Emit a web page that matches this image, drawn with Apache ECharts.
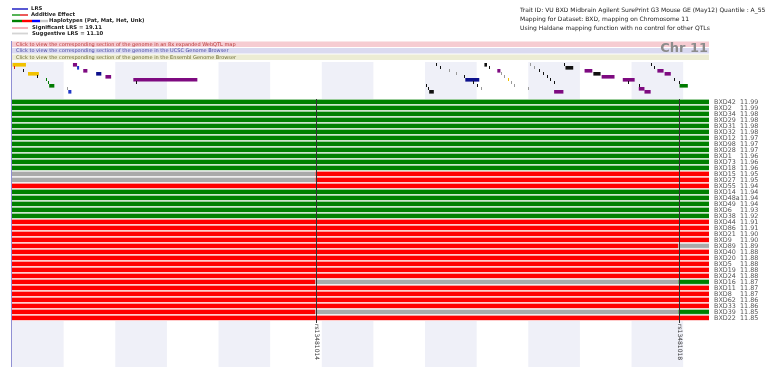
<!DOCTYPE html>
<html>
<head>
<meta charset="utf-8">
<script src="https://cdn.jsdelivr.net/npm/echarts@6/dist/echarts.min.js"></script>
<style>
  html, body { margin: 0; padding: 0; background: #ffffff; }
  #chart { width: 766px; height: 367px; }
</style>
</head>
<body>
<div id="chart"></div>
<script>
// Strains, their peak LRS on the chromosome, and the genotype of each block
// (left of the first marker, between markers, right of the last marker).
// B = Pat, D = Mat, H = Het, U = Unk
const strains = ['BXD42','BXD2','BXD34','BXD29','BXD31','BXD32','BXD12','BXD98','BXD28','BXD1',
  'BXD73','BXD18','BXD15','BXD27','BXD55','BXD14','BXD48a','BXD49','BXD6','BXD38',
  'BXD44','BXD86','BXD21','BXD9','BXD89','BXD40','BXD20','BXD5','BXD19','BXD24',
  'BXD16','BXD11','BXD8','BXD62','BXD33','BXD39','BXD22'];
const lrsValues = [11.99,11.99,11.98,11.98,11.98,11.98,11.97,11.97,11.97,11.96,
  11.96,11.96,11.95,11.95,11.94,11.94,11.94,11.94,11.93,11.92,
  11.91,11.91,11.90,11.90,11.89,11.88,11.88,11.88,11.88,11.88,
  11.87,11.87,11.87,11.86,11.86,11.85,11.85];
const genotypes = ['BBB','BBB','BBB','BBB','BBB','BBB','BBB','BBB','BBB','BBB',
  'BBB','BBB','UDD','UDD','DDD','BBB','BBB','BBB','BBB','BBB',
  'DDD','DDD','DDD','DDD','DDU','DDD','DDD','DDD','DDD','DDD',
  'DUB','DDD','DDD','DDD','DDD','DUB','DDD'];

// Markers (Mb) and chromosome extent (Mb)
const markerNames = ['rs13481014', 'rs13481018'];
const markerMb = [58.8, 129.1];
const chrEndMb = 135;
const shadedBandStarts = [0, 20, 40, 60, 80, 100, 120];
const bandWidthMb = 10;

// Feature track above the haplotypes: [start Mb, end Mb, track row, kind]
const trackFeatures = [
  [0.1, 2.7, 0, 'Y'], [0.4, 0.4, 1, 'R'], [2.1, 2.1, 2, 'K'], [3.1, 5.2, 3, 'Y'],
  [4.8, 4.8, 4, 'K'], [6.6, 6.6, 5, 'G'], [6.9, 6.9, 6, 'G'], [7.2, 8.2, 7, 'G'],
  [10.6, 10.6, 8, 'L'], [10.9, 11.5, 9, 'B'], [11.8, 12.6, 0, 'P'], [12.6, 13.0, 1, 'B'],
  [13.8, 14.6, 2, 'P'], [16.3, 17.3, 3, 'N'], [18.1, 19.2, 4, 'P'], [23.5, 35.9, 5, 'P'],
  [24.1, 24.1, 6, 'K'],
  [80.2, 80.2, 7, 'K'], [80.6, 80.6, 8, 'K'], [80.8, 81.7, 9, 'K'], [82.1, 82.1, 0, 'K'],
  [82.9, 82.9, 1, 'K'], [84.7, 84.7, 2, 'L'], [86.0, 86.0, 3, 'L'], [87.6, 87.6, 4, 'K'],
  [87.8, 90.5, 5, 'N'], [89.3, 89.3, 6, 'K'], [90.1, 90.1, 7, 'K'], [90.9, 90.9, 8, 'L'],
  [91.5, 92.0, 0, 'K'], [92.4, 92.4, 1, 'K'], [94.0, 94.6, 2, 'P'], [94.8, 94.8, 3, 'L'],
  [95.3, 95.3, 4, 'L'], [96.1, 96.1, 5, 'Y'], [96.7, 96.7, 6, 'L'], [97.3, 97.3, 7, 'L'],
  [100.0, 100.0, 8, 'L'], [100.4, 100.4, 0, 'L'], [101.2, 101.2, 1, 'L'], [102.1, 102.1, 2, 'K'],
  [102.9, 102.9, 3, 'K'], [103.7, 103.7, 4, 'K'], [104.3, 104.3, 5, 'K'], [104.9, 104.9, 6, 'K'],
  [105.0, 106.8, 9, 'P'], [107.0, 107.0, 0, 'K'], [107.2, 108.7, 1, 'K'], [110.9, 112.4, 2, 'P'],
  [112.6, 114.0, 3, 'K'], [114.2, 116.7, 4, 'P'], [118.3, 120.6, 5, 'P'], [119.4, 119.4, 6, 'K'],
  [121.4, 121.4, 7, 'K'], [121.4, 122.5, 8, 'P'], [122.5, 123.7, 9, 'P'], [123.7, 123.7, 0, 'K'],
  [124.3, 124.3, 1, 'K'], [125.0, 126.2, 2, 'P'], [126.4, 127.6, 3, 'P'], [128.3, 128.3, 5, 'K'],
  [129.1, 129.1, 6, 'K'], [129.3, 130.9, 7, 'G']
];

// Text
const headerLines = [
  'Trait ID: VU BXD Midbrain Agilent SurePrint G3 Mouse GE (May12) Quantile : A_55',
  'Mapping for Dataset: BXD, mapping on Chromosome 11',
  'Using Haldane mapping function with no control for other QTLs'
];
const linkLines = [
  'Click to view the corresponding section of the genome in an 8x expanded WebQTL map',
  'Click to view the corresponding section of the genome in the UCSC Genome Browser',
  'Click to view the corresponding section of the genome in the Ensembl Genome Browser'
];
const chrTitle = 'Chr 11';

// ---- styling ----
const FONT = '"DejaVu Sans", Verdana, sans-serif';
const genoKeys = ['B', 'D', 'H', 'U'];
const genoColors = { B: '#008000', D: '#ff0000', H: '#0000ff', U: '#aaaaaa' };
const kindKeys = ['Y', 'R', 'K', 'G', 'L', 'B', 'P', 'N'];
const kindColors = { Y: '#f2c200', R: '#d02020', K: '#111111', G: '#007a00', L: '#9a9a9a',
  B: '#2038c8', P: '#7e0a80', N: '#0c108c' };
const bandFill = '#eff0f8';

function tint(hex, t) {
  const n = parseInt(hex.slice(1), 16);
  const r = (n >> 16) & 255, g = (n >> 8) & 255, b = n & 255;
  const m = c => Math.round(c + (255 - c) * t);
  return 'rgb(' + m(r) + ',' + m(g) + ',' + m(b) + ')';
}

// Haplotype blocks, merging neighbouring blocks with the same genotype
const breaks = [0, markerMb[0], markerMb[1], chrEndMb];
const segData = [];
strains.forEach((s, i) => {
  let k = 0;
  while (k < 3) {
    let j = k;
    while (j + 1 < 3 && genotypes[i][j + 1] === genotypes[i][k]) j++;
    segData.push([breaks[k], breaks[j + 1], i, genoKeys.indexOf(genotypes[i][k])]);
    k = j + 1;
  }
});
const trackData = trackFeatures.map(f => [f[0], f[1], f[2], kindKeys.indexOf(f[3])]);
const bandData = shadedBandStarts.map(s => [s, s + bandWidthMb]);

function renderBands(params, api) {
  const cs = params.coordSys;
  const a = api.coord([api.value(0), 0]);
  const b = api.coord([api.value(1), 0]);
  return { type: 'rect', shape: { x: a[0], y: cs.y, width: b[0] - a[0], height: cs.height },
    style: { fill: bandFill } };
}

const LEFT = 12, WIDTH = 697;

const option = {
  animation: false,
  backgroundColor: '#ffffff',
  grid: [
    { left: LEFT, width: WIDTH, top: 62, height: 37 },
    { left: LEFT, width: WIDTH, top: 99, height: 222 },
    { left: LEFT, width: WIDTH, top: 321, height: 46 }
  ],
  xAxis: [0, 1, 2].map(g => ({ type: 'value', gridIndex: g, min: 0, max: chrEndMb, show: false })),
  yAxis: [
    { type: 'value', gridIndex: 0, min: 0, max: 12.33, inverse: true, show: false },
    {
      type: 'category', gridIndex: 1, data: strains, inverse: true, position: 'right',
      axisLine: { show: false }, axisTick: { show: false }, splitLine: { show: false },
      axisLabel: {
        interval: 0, margin: 5, align: 'left',
        formatter: (v, i) => '{n|' + v + '}{v|' + lrsValues[i].toFixed(2) + '}',
        rich: {
          n: { width: 26, fontFamily: FONT, fontSize: 6.4, color: '#555555' },
          v: { fontFamily: FONT, fontSize: 6.4, color: '#555555' }
        }
      }
    },
    { type: 'value', gridIndex: 2, min: 0, max: 1, show: false }
  ],
  series: [
    { type: 'custom', xAxisIndex: 0, yAxisIndex: 0, data: bandData, renderItem: renderBands, silent: true, z: 1 },
    { type: 'custom', xAxisIndex: 1, yAxisIndex: 1, data: bandData, renderItem: renderBands, silent: true, z: 1 },
    { type: 'custom', xAxisIndex: 2, yAxisIndex: 2, data: bandData, renderItem: renderBands, silent: true, z: 1 },
    {
      // feature track
      type: 'custom', xAxisIndex: 0, yAxisIndex: 0, data: trackData, z: 3,
      encode: { x: [0, 1], y: 2 },
      renderItem(params, api) {
        const a = api.coord([api.value(0), api.value(2)]);
        const b = api.coord([api.value(1), api.value(2)]);
        const col = kindColors[kindKeys[api.value(3)]];
        const w = b[0] - a[0];
        if (w < 0.5) {
          return { type: 'rect', shape: { x: Math.round(a[0]), y: a[1] + 1, width: 1, height: 3 },
            style: { fill: col } };
        }
        return { type: 'rect', shape: { x: a[0], y: a[1] + 1, width: w, height: 3.6 }, style: { fill: col } };
      }
    },
    {
      // haplotype blocks per strain
      type: 'custom', xAxisIndex: 1, yAxisIndex: 1, data: segData, z: 3,
      encode: { x: [0, 1], y: 2 },
      renderItem(params, api) {
        const a = api.coord([api.value(0), api.value(2)]);
        const b = api.coord([api.value(1), api.value(2)]);
        const rowH = api.size([0, 1])[1];
        const top = a[1] - rowH / 2;
        const col = genoColors[genoKeys[api.value(3)]];
        return { type: 'group', children: [
          { type: 'rect', shape: { x: a[0], y: top, width: b[0] - a[0], height: rowH },
            style: { fill: tint(col, 0.8) } },
          { type: 'rect', shape: { x: a[0], y: top + 0.8, width: b[0] - a[0], height: rowH - 1.9 },
            style: { fill: col } }
        ] };
      }
    },
    {
      // marker lines and names
      type: 'custom', xAxisIndex: 1, yAxisIndex: 1, z: 5,
      data: markerMb.map((m, i) => [m, i]),
      encode: { x: 0 },
      renderItem(params, api) {
        const cs = params.coordSys;
        const p = api.coord([api.value(0), 0]);
        const x = Math.round(p[0]) + 0.5;
        const yb = cs.y + cs.height;
        return { type: 'group', children: [
          { type: 'line', shape: { x1: x, y1: cs.y, x2: x, y2: yb + 2 },
            style: { stroke: '#333333', lineWidth: 1 } },
          { type: 'text', x: x, y: yb + 3, rotation: -Math.PI / 2,
            style: { text: markerNames[params.dataIndex], font: '6px ' + FONT, fill: '#333333',
              align: 'left', verticalAlign: 'middle' } }
        ] };
      }
    }
  ],
  graphic: [
    // left frame line
    { type: 'line', shape: { x1: 11.5, y1: 41, x2: 11.5, y2: 367 }, style: { stroke: '#9090d4', lineWidth: 1 }, z: 10 },
    // legend
    { type: 'line', shape: { x1: 12, y1: 9, x2: 28, y2: 9 }, style: { stroke: '#3030c8', lineWidth: 1.6 } },
    { type: 'text', x: 31, y: 9, style: { text: 'LRS', font: 'bold 5.3px ' + FONT, fill: '#222', verticalAlign: 'middle' } },
    { type: 'line', shape: { x1: 12, y1: 15, x2: 20, y2: 15 }, style: { stroke: '#2ea02e', lineWidth: 1.6 } },
    { type: 'line', shape: { x1: 20, y1: 15, x2: 28, y2: 15 }, style: { stroke: '#e83030', lineWidth: 1.6 } },
    { type: 'text', x: 31, y: 15, style: { text: 'Additive Effect', font: 'bold 5.3px ' + FONT, fill: '#222', verticalAlign: 'middle' } },
    { type: 'line', shape: { x1: 12, y1: 21, x2: 22, y2: 21 }, style: { stroke: '#008000', lineWidth: 2.4 } },
    { type: 'line', shape: { x1: 22, y1: 21, x2: 32, y2: 21 }, style: { stroke: '#ff0000', lineWidth: 2.4 } },
    { type: 'line', shape: { x1: 32, y1: 21, x2: 40, y2: 21 }, style: { stroke: '#0000ff', lineWidth: 2.4 } },
    { type: 'line', shape: { x1: 40, y1: 21, x2: 48, y2: 21 }, style: { stroke: '#c8c8c8', lineWidth: 2.4 } },
    { type: 'text', x: 49, y: 21, style: { text: 'Haplotypes (Pat, Mat, Het, Unk)', font: 'bold 5.3px ' + FONT, fill: '#222', verticalAlign: 'middle' } },
    { type: 'line', shape: { x1: 12, y1: 28, x2: 28, y2: 28 }, style: { stroke: '#f4a8b0', lineWidth: 1.8 } },
    { type: 'text', x: 32, y: 28, style: { text: 'Significant LRS = 19.11', font: 'bold 5.3px ' + FONT, fill: '#222', verticalAlign: 'middle' } },
    { type: 'line', shape: { x1: 12, y1: 33.5, x2: 28, y2: 33.5 }, style: { stroke: '#d4d4d4', lineWidth: 1.8 } },
    { type: 'text', x: 32, y: 33.5, style: { text: 'Suggestive LRS = 11.10', font: 'bold 5.3px ' + FONT, fill: '#222', verticalAlign: 'middle' } },
    // header
    { type: 'text', x: 520, y: 10, style: { text: headerLines[0], font: '6px ' + FONT, fill: '#222', verticalAlign: 'middle' } },
    { type: 'text', x: 520, y: 19, style: { text: headerLines[1], font: '6px ' + FONT, fill: '#222', verticalAlign: 'middle' } },
    { type: 'text', x: 520, y: 28, style: { text: headerLines[2], font: '6px ' + FONT, fill: '#222', verticalAlign: 'middle' } },
    // link strips
    { type: 'rect', shape: { x: 11, y: 41.5, width: 698, height: 5.5 }, style: { fill: '#f6ccd2' } },
    { type: 'rect', shape: { x: 11, y: 48, width: 698, height: 5.5 }, style: { fill: '#dadaf0' } },
    { type: 'rect', shape: { x: 11, y: 54.5, width: 698, height: 5.5 }, style: { fill: '#ececd4' } },
    { type: 'text', x: 16, y: 44.3, style: { text: linkLines[0], font: '5px ' + FONT, fill: '#b83838', verticalAlign: 'middle' } },
    { type: 'text', x: 16, y: 50.8, style: { text: linkLines[1], font: '5px ' + FONT, fill: '#4848a0', verticalAlign: 'middle' } },
    { type: 'text', x: 16, y: 57.3, style: { text: linkLines[2], font: '5px ' + FONT, fill: '#6a6a30', verticalAlign: 'middle' } },
    { type: 'text', x: 708, y: 49, style: { text: chrTitle, font: 'bold 13px ' + FONT, fill: '#8c8c8c', align: 'right', verticalAlign: 'middle' } }
  ]
};

const chart = echarts.init(document.getElementById('chart'), null, { renderer: 'canvas' });
chart.setOption(option);
</script>
</body>
</html>
